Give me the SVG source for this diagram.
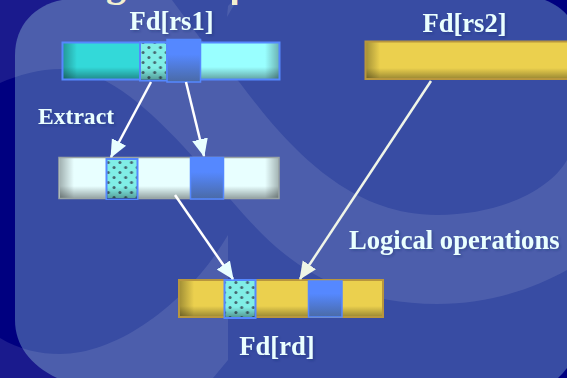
<svg xmlns="http://www.w3.org/2000/svg" width="567" height="378" viewBox="0 0 567 378">
<style>
.lbl{font-family:"Liberation Serif","Times New Roman",serif;font-weight:bold;font-size:26.600px;fill:#eaffff;filter:url(#ts)}
.ttl{font-family:"Liberation Serif","Times New Roman",serif;font-weight:bold;font-size:40px;fill:#f2f0d0}
.sw{fill:#fff;fill-opacity:.1}
.blue{fill:url(#bl);stroke:#5588ff;stroke-width:1.5}
.pat{fill:url(#dots);stroke:#5588ff;stroke-width:2}
.wire{stroke:#fff;stroke-width:2.5;fill:none;marker-end:url(#ah)}
.wire2{stroke:#f0f5e8;stroke-width:2.5;fill:none;marker-end:url(#ah2)}
</style>
<defs>
<clipPath id="pc"><rect x="232" y="0" width="7" height="5"/></clipPath>
<filter id="ts" x="-10%" y="-20%" width="125%" height="150%"><feDropShadow dx="1.5" dy="1.5" stdDeviation="1" flood-color="#1a2560" flood-opacity=".35"/></filter>
<linearGradient id="bl" x1="0" y1="0" x2="0" y2="1"><stop offset=".35" stop-color="#5588ff"/><stop offset="1" stop-color="#4a6aa6"/></linearGradient>
<linearGradient id="sL" x1="0" x2="1" y1="0" y2="0"><stop offset="0" stop-color="#000" stop-opacity=".3"/><stop offset="1" stop-color="#000" stop-opacity="0"/></linearGradient>
<linearGradient id="sR" x1="1" x2="0" y1="0" y2="0"><stop offset="0" stop-color="#000" stop-opacity=".3"/><stop offset="1" stop-color="#000" stop-opacity="0"/></linearGradient>
<linearGradient id="sB" x1="0" x2="0" y1="1" y2="0"><stop offset="0" stop-color="#000" stop-opacity=".35"/><stop offset="1" stop-color="#000" stop-opacity="0"/></linearGradient>
<pattern id="dots" width="11.600" height="10" patternUnits="userSpaceOnUse" patternTransform="translate(1 0)">
<rect width="11.600" height="10" fill="#80eee6"/>
<circle cx="2.900" cy="2.500" r="1.500" fill="#45656e"/><circle cx="8.700" cy="7.500" r="1.500" fill="#45656e"/>
</pattern>
<marker id="ah" viewBox="0 0 18 18" markerUnits="userSpaceOnUse" markerWidth="18" markerHeight="18" refX="17" refY="9" orient="auto"><path d="M0 1L18 9L0 17Z" fill="#e8ffff"/></marker>
<marker id="ah2" viewBox="0 0 18 18" markerUnits="userSpaceOnUse" markerWidth="18" markerHeight="18" refX="17" refY="9" orient="auto"><path d="M0 1L18 9L0 17Z" fill="#eef6e6"/></marker>
</defs>

<g id="background">
<rect width="567" height="378" fill="#000080"/>
<path d="M15 378V55C15 25 35 5 62 0H545C555 4 562 9 567 15V368C564 372 561 375 558 378Z" fill="#384ca3"/>
<path d="M15 320C15 345 30 365 57 378H15Z" fill="#000080"/>
<path class="sw" d="M0 83C30 70 70 62 100 78C140 98 175 135 230 199C270 245 320 303 437 304C490 304 535 288 567 270V160C550 190 500 215 437 215C350 215 290 150 240 83L200 38L172 0H0Z"/>
<path class="sw" d="M0 338C20 350 40 354 60 354C120 354 190 300 228 235V360L213 378H0Z"/>
<path class="sw" d="M227 17L228 6L234 0H237Z"/>
<text class="ttl" x="106" y="-4">g</text>
<text class="ttl" x="229" y="-1" clip-path="url(#pc)">p</text>
</g>

<g id="fd-rs1">
<rect x="62.500" y="42.500" width="217" height="37" fill="#99ffff"/>
<rect x="62.500" y="42.500" width="77" height="37" fill="#33d9d9"/>
<rect x="63" y="43" width="14" height="36" fill="url(#sL)"/>
<rect x="265" y="43" width="14" height="36" fill="url(#sR)"/>
<rect x="63" y="67" width="216" height="12" fill="url(#sB)"/>
<rect x="62.500" y="42.500" width="217" height="37" fill="none" stroke="#5588ff" stroke-width="2"/>
<rect class="pat" x="140" y="42.500" width="27" height="38"/>
<rect x="141" y="68" width="26" height="12" fill="url(#sB)"/>
<rect class="blue" x="167" y="39.500" width="33.500" height="42.500"/>
<text class="lbl" x="171.500" y="30" text-anchor="middle">Fd[rs1]</text>
</g>

<g id="fd-rs2">
<rect x="365.500" y="41.500" width="210" height="37.500" fill="#ebd04e"/>
<rect x="366" y="42" width="14" height="37" fill="url(#sL)"/>
<rect x="366" y="68" width="210" height="11" fill="url(#sB)"/>
<rect x="365.500" y="41.500" width="210" height="37.500" fill="none" stroke="#b8963e" stroke-width="2"/>
<text class="lbl" x="464.500" y="32" text-anchor="middle">Fd[rs2]</text>
</g>

<g id="extract-bar">
<rect x="59" y="157.500" width="220" height="41" fill="#e8ffff"/>
<rect x="60" y="158" width="14" height="40" fill="url(#sL)"/>
<rect x="265" y="158" width="14" height="40" fill="url(#sR)"/>
<rect x="60" y="186" width="219" height="12" fill="url(#sB)"/>
<rect x="59" y="157.500" width="220" height="41" fill="none" stroke="#9aa5a5" stroke-width="1.500"/>
<rect class="pat" x="106.500" y="159" width="31" height="40"/>
<rect x="107" y="187" width="30" height="12" fill="url(#sB)"/>
<rect class="blue" x="190.500" y="157.500" width="33" height="41.500"/>
</g>

<text id="extract-label" class="lbl" x="38" y="124" style="font-size:23.600px">Extract</text>

<g id="fd-rd">
<rect x="179" y="280" width="204" height="37" fill="#ebd04e"/>
<rect x="180" y="281" width="14" height="36" fill="url(#sL)"/>
<rect x="180" y="306" width="203" height="11" fill="url(#sB)"/>
<rect x="179" y="280" width="204" height="37" fill="none" stroke="#b8963e" stroke-width="2"/>
<rect class="pat" x="224.500" y="280" width="31" height="38"/>
<rect x="225" y="307" width="30" height="10" fill="url(#sB)"/>
<rect class="blue" x="308.500" y="281" width="33.500" height="36"/>
<text class="lbl" x="277" y="355" text-anchor="middle">Fd[rd]</text>
</g>

<text id="logical-label" class="lbl" x="349" y="249">Logical operations</text>

<g id="connectors">
<line class="wire" x1="151" y1="82" x2="111" y2="157"/>
<line class="wire" x1="186" y1="82" x2="204" y2="156"/>
<line class="wire" x1="175" y1="195" x2="233" y2="279"/>
<line class="wire2" x1="431" y1="81" x2="300" y2="279"/>
</g>
</svg>
